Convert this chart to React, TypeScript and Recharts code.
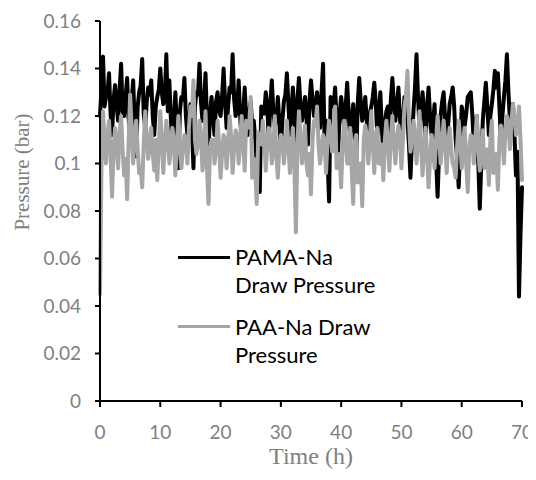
import React from 'react';
import { LineChart, Line, XAxis, YAxis, Legend } from 'recharts';

// Time (h), sampled every quarter hour
const timeH = [
  0, 0.25, 0.5, 0.75, 1, 1.25, 1.5, 1.75, 2, 2.25, 2.5, 2.75, 3, 3.25, 3.5, 3.75, 4, 4.25, 4.5, 4.75, 5, 5.25, 5.5, 5.75, 6, 6.25, 6.5, 6.75, 7, 7.25, 7.5, 7.75, 8, 8.25, 8.5, 8.75, 9, 9.25, 9.5, 9.75, 10,
  10.25, 10.5, 10.75, 11, 11.25, 11.5, 11.75, 12, 12.25, 12.5, 12.75, 13, 13.25, 13.5, 13.75, 14, 14.25, 14.5, 14.75, 15, 15.25, 15.5, 15.75, 16, 16.25, 16.5, 16.75, 17, 17.25, 17.5, 17.75, 18, 18.25, 18.5, 18.75, 19, 19.25, 19.5, 19.75, 20,
  20.25, 20.5, 20.75, 21, 21.25, 21.5, 21.75, 22, 22.25, 22.5, 22.75, 23, 23.25, 23.5, 23.75, 24, 24.25, 24.5, 24.75, 25, 25.25, 25.5, 25.75, 26, 26.25, 26.5, 26.75, 27, 27.25, 27.5, 27.75, 28, 28.25, 28.5, 28.75, 29, 29.25, 29.5, 29.75, 30,
  30.25, 30.5, 30.75, 31, 31.25, 31.5, 31.75, 32, 32.25, 32.5, 32.75, 33, 33.25, 33.5, 33.75, 34, 34.25, 34.5, 34.75, 35, 35.25, 35.5, 35.75, 36, 36.25, 36.5, 36.75, 37, 37.25, 37.5, 37.75, 38, 38.25, 38.5, 38.75, 39, 39.25, 39.5, 39.75, 40,
  40.25, 40.5, 40.75, 41, 41.25, 41.5, 41.75, 42, 42.25, 42.5, 42.75, 43, 43.25, 43.5, 43.75, 44, 44.25, 44.5, 44.75, 45, 45.25, 45.5, 45.75, 46, 46.25, 46.5, 46.75, 47, 47.25, 47.5, 47.75, 48, 48.25, 48.5, 48.75, 49, 49.25, 49.5, 49.75, 50,
  50.25, 50.5, 50.75, 51, 51.25, 51.5, 51.75, 52, 52.25, 52.5, 52.75, 53, 53.25, 53.5, 53.75, 54, 54.25, 54.5, 54.75, 55, 55.25, 55.5, 55.75, 56, 56.25, 56.5, 56.75, 57, 57.25, 57.5, 57.75, 58, 58.25, 58.5, 58.75, 59, 59.25, 59.5, 59.75, 60,
  60.25, 60.5, 60.75, 61, 61.25, 61.5, 61.75, 62, 62.25, 62.5, 62.75, 63, 63.25, 63.5, 63.75, 64, 64.25, 64.5, 64.75, 65, 65.25, 65.5, 65.75, 66, 66.25, 66.5, 66.75, 67, 67.25, 67.5, 67.75, 68, 68.25, 68.5, 68.75, 69, 69.25, 69.5, 69.75, 70,
];

// PAMA-Na Draw Pressure (bar)
const pamaNa = [
  0.120, 0.132, 0.145, 0.124, 0.128, 0.130, 0.138, 0.121, 0.112, 0.127, 0.133, 0.125, 0.118, 0.131, 0.142, 0.122, 0.120, 0.128, 0.136, 0.119, 0.110, 0.126, 0.135, 0.117, 0.103, 0.124, 0.130, 0.133, 0.144, 0.121, 0.115, 0.126, 0.132, 0.129, 0.135, 0.120, 0.112, 0.124, 0.128, 0.131, 0.140,
  0.130, 0.125, 0.128, 0.146, 0.122, 0.135, 0.119, 0.108, 0.118, 0.130, 0.115, 0.098, 0.122, 0.128, 0.127, 0.136, 0.120, 0.112, 0.117, 0.125, 0.116, 0.098, 0.124, 0.130, 0.129, 0.142, 0.126, 0.118, 0.125, 0.138, 0.118, 0.105, 0.121, 0.128, 0.119, 0.112, 0.126, 0.130, 0.122, 0.120,
  0.128, 0.140, 0.126, 0.115, 0.124, 0.132, 0.130, 0.146, 0.127, 0.120, 0.123, 0.135, 0.120, 0.108, 0.121, 0.132, 0.119, 0.112, 0.122, 0.126, 0.116, 0.118, 0.110, 0.100, 0.105, 0.088, 0.124, 0.122, 0.121, 0.130, 0.123, 0.110, 0.125, 0.135, 0.122, 0.116, 0.118, 0.128, 0.117, 0.106,
  0.118, 0.126, 0.129, 0.138, 0.125, 0.112, 0.122, 0.132, 0.120, 0.104, 0.127, 0.136, 0.124, 0.118, 0.123, 0.128, 0.119, 0.108, 0.126, 0.135, 0.127, 0.120, 0.124, 0.130, 0.123, 0.115, 0.130, 0.142, 0.110, 0.118, 0.102, 0.084, 0.128, 0.125, 0.124, 0.132, 0.118, 0.105, 0.121, 0.128,
  0.122, 0.115, 0.124, 0.134, 0.121, 0.110, 0.118, 0.125, 0.115, 0.102, 0.125, 0.136, 0.126, 0.118, 0.122, 0.128, 0.118, 0.108, 0.121, 0.124, 0.128, 0.134, 0.125, 0.112, 0.121, 0.130, 0.115, 0.104, 0.117, 0.122, 0.124, 0.112, 0.127, 0.136, 0.125, 0.118, 0.124, 0.132, 0.120, 0.108,
  0.117, 0.128, 0.124, 0.118, 0.108, 0.094, 0.110, 0.122, 0.132, 0.146, 0.128, 0.115, 0.122, 0.130, 0.121, 0.108, 0.124, 0.132, 0.120, 0.112, 0.117, 0.125, 0.102, 0.086, 0.105, 0.120, 0.126, 0.130, 0.119, 0.105, 0.116, 0.125, 0.128, 0.132, 0.124, 0.110, 0.102, 0.090, 0.108, 0.124,
  0.120, 0.116, 0.121, 0.128, 0.129, 0.130, 0.121, 0.108, 0.116, 0.120, 0.100, 0.081, 0.101, 0.118, 0.126, 0.134, 0.124, 0.112, 0.120, 0.125, 0.131, 0.139, 0.132, 0.138, 0.124, 0.110, 0.120, 0.128, 0.135, 0.146, 0.130, 0.118, 0.122, 0.125, 0.112, 0.095, 0.105, 0.044, 0.070, 0.090,
];

// PAA-Na Draw Pressure (bar)
const paaNa = [
  0.045, 0.100, 0.122, 0.110, 0.100, 0.112, 0.118, 0.104, 0.086, 0.106, 0.115, 0.108, 0.098, 0.113, 0.120, 0.106, 0.095, 0.102, 0.085, 0.110, 0.129, 0.115, 0.100, 0.112, 0.118, 0.106, 0.096, 0.098, 0.090, 0.108, 0.122, 0.111, 0.102, 0.110, 0.115, 0.104, 0.097, 0.110, 0.093, 0.108, 0.122,
  0.110, 0.096, 0.108, 0.118, 0.111, 0.100, 0.106, 0.115, 0.110, 0.095, 0.107, 0.120, 0.108, 0.098, 0.106, 0.112, 0.110, 0.100, 0.115, 0.124, 0.120, 0.135, 0.110, 0.104, 0.108, 0.118, 0.112, 0.097, 0.105, 0.122, 0.098, 0.083, 0.106, 0.110, 0.110, 0.100, 0.106, 0.118, 0.108, 0.094,
  0.104, 0.112, 0.110, 0.098, 0.108, 0.120, 0.111, 0.096, 0.107, 0.114, 0.112, 0.100, 0.110, 0.120, 0.108, 0.097, 0.118, 0.115, 0.116, 0.128, 0.094, 0.102, 0.098, 0.083, 0.113, 0.110, 0.108, 0.118, 0.110, 0.097, 0.108, 0.115, 0.112, 0.100, 0.106, 0.120, 0.104, 0.094, 0.108, 0.112,
  0.110, 0.100, 0.107, 0.118, 0.108, 0.096, 0.106, 0.115, 0.098, 0.071, 0.108, 0.122, 0.112, 0.100, 0.107, 0.116, 0.100, 0.095, 0.104, 0.087, 0.110, 0.118, 0.116, 0.124, 0.108, 0.100, 0.106, 0.112, 0.109, 0.096, 0.110, 0.118, 0.114, 0.105, 0.110, 0.124, 0.098, 0.100, 0.104, 0.090,
  0.108, 0.118, 0.111, 0.100, 0.100, 0.115, 0.098, 0.083, 0.108, 0.112, 0.092, 0.098, 0.100, 0.082, 0.110, 0.116, 0.112, 0.100, 0.109, 0.122, 0.108, 0.096, 0.112, 0.115, 0.100, 0.100, 0.108, 0.093, 0.110, 0.118, 0.108, 0.097, 0.111, 0.120, 0.109, 0.100, 0.110, 0.116, 0.112, 0.098,
  0.110, 0.124, 0.128, 0.139, 0.118, 0.105, 0.110, 0.118, 0.112, 0.100, 0.110, 0.122, 0.108, 0.095, 0.106, 0.115, 0.104, 0.090, 0.102, 0.112, 0.106, 0.098, 0.110, 0.120, 0.111, 0.100, 0.108, 0.118, 0.110, 0.096, 0.108, 0.115, 0.106, 0.100, 0.098, 0.094, 0.108, 0.118, 0.110, 0.098,
  0.104, 0.115, 0.100, 0.088, 0.106, 0.112, 0.111, 0.100, 0.110, 0.120, 0.106, 0.097, 0.108, 0.114, 0.098, 0.100, 0.106, 0.091, 0.110, 0.118, 0.096, 0.102, 0.104, 0.089, 0.110, 0.116, 0.111, 0.100, 0.114, 0.120, 0.116, 0.106, 0.118, 0.125, 0.120, 0.112, 0.114, 0.124, 0.110, 0.093,
];

const seriesNames = ['PAMA-Na Draw Pressure', 'PAA-Na Draw Pressure'];
const legendLines = [['PAMA-Na', 'Draw Pressure'], ['PAA-Na Draw', 'Pressure']];
const seriesColors = ['#000000', '#a6a6a6'];
const xTicks = [0, 10, 20, 30, 40, 50, 60, 70];
const yTicks = [0, 0.02, 0.04, 0.06, 0.08, 0.1, 0.12, 0.14, 0.16];
const xTitle = 'Time (h)';
const yTitle = 'Pressure (bar)';

const data = timeH.map((t, i) => ({ t, pama: pamaNa[i], paa: paaNa[i] }));

const TICK_STYLE = { fill: '#7f7f7f', fontSize: 19, fontFamily: 'Lato' };
const TITLE_COLOR = '#808080';

function LegendBox(props: any) {
  const payload = [...(props.payload || [])].sort(
    (a: any, b: any) => seriesNames.indexOf(a.value) - seriesNames.indexOf(b.value)
  );
  return (
    <div style={{ fontFamily: 'Lato', fontSize: 22, lineHeight: '28px', color: '#000' }}>
      {payload.map((p: any, i: number) => {
        const idx = seriesNames.indexOf(p.value);
        const lines = legendLines[idx] || [p.value];
        return (
          <div key={i} style={{ display: 'flex', alignItems: 'flex-start', marginBottom: 14 }}>
            <div
              style={{
                width: 52,
                height: 3,
                background: p.color,
                marginTop: i === 0 ? 13 : 12,
                marginRight: 5,
                flex: 'none',
              }}
            />
            <div style={{ textAlign: 'left', whiteSpace: 'nowrap' }}>
              {lines.map((l: string, k: number) => (
                <div key={k}>{l}</div>
              ))}
            </div>
          </div>
        );
      })}
    </div>
  );
}

function XTitleLabel(props: any) {
  const vb = props.viewBox || { x: 92, width: 422 };
  const cx = vb.x + vb.width / 2;
  return (
    <text x={cx} y={456} textAnchor="middle" fill={TITLE_COLOR} fontFamily="Liberation Serif" fontSize={24}>
      {xTitle}
    </text>
  );
}

function YTitleLabel() {
  return (
    <text
      x={21}
      y={164}
      transform="rotate(-90 21 164)"
      textAnchor="middle"
      fill={TITLE_COLOR}
      fontFamily="Liberation Serif"
      fontSize={21}
    >
      {yTitle}
    </text>
  );
}

export default function App() {
  return (
    <LineChart width={528} height={464} data={data} margin={{ top: 13, right: 14, left: 0, bottom: 0 }}>
      <XAxis
        dataKey="t"
        type="number"
        domain={[0, 70]}
        ticks={xTicks}
        interval={0}
        height={71}
        tickSize={6}
        tickMargin={19}
        tick={TICK_STYLE}
        axisLine={{ stroke: '#000', strokeWidth: 2 }}
        tickLine={{ stroke: '#000', strokeWidth: 2 }}
        label={<XTitleLabel />}
      />
      <YAxis
        type="number"
        domain={[0, 0.16]}
        ticks={yTicks}
        interval={0}
        width={92}
        tickSize={5}
        tickMargin={14}
        tick={TICK_STYLE}
        axisLine={{ stroke: '#000', strokeWidth: 2 }}
        tickLine={{ stroke: '#000', strokeWidth: 2 }}
        label={<YTitleLabel />}
      />
      <Legend
        layout="vertical"
        align="center"
        verticalAlign="middle"
        wrapperStyle={{ left: 170, top: 235, width: 240 }}
        content={(p: any) => <LegendBox {...p} />}
      />
      <Line
        type="linear"
        dataKey="pama"
        name={seriesNames[0]}
        stroke={seriesColors[0]}
        strokeWidth={4}
        strokeLinejoin="round"
        strokeLinecap="round"
        dot={false}
        isAnimationActive={false}
      />
      <Line
        type="linear"
        dataKey="paa"
        name={seriesNames[1]}
        stroke={seriesColors[1]}
        strokeWidth={4}
        strokeLinejoin="round"
        strokeLinecap="round"
        dot={false}
        isAnimationActive={false}
      />
    </LineChart>
  );
}
